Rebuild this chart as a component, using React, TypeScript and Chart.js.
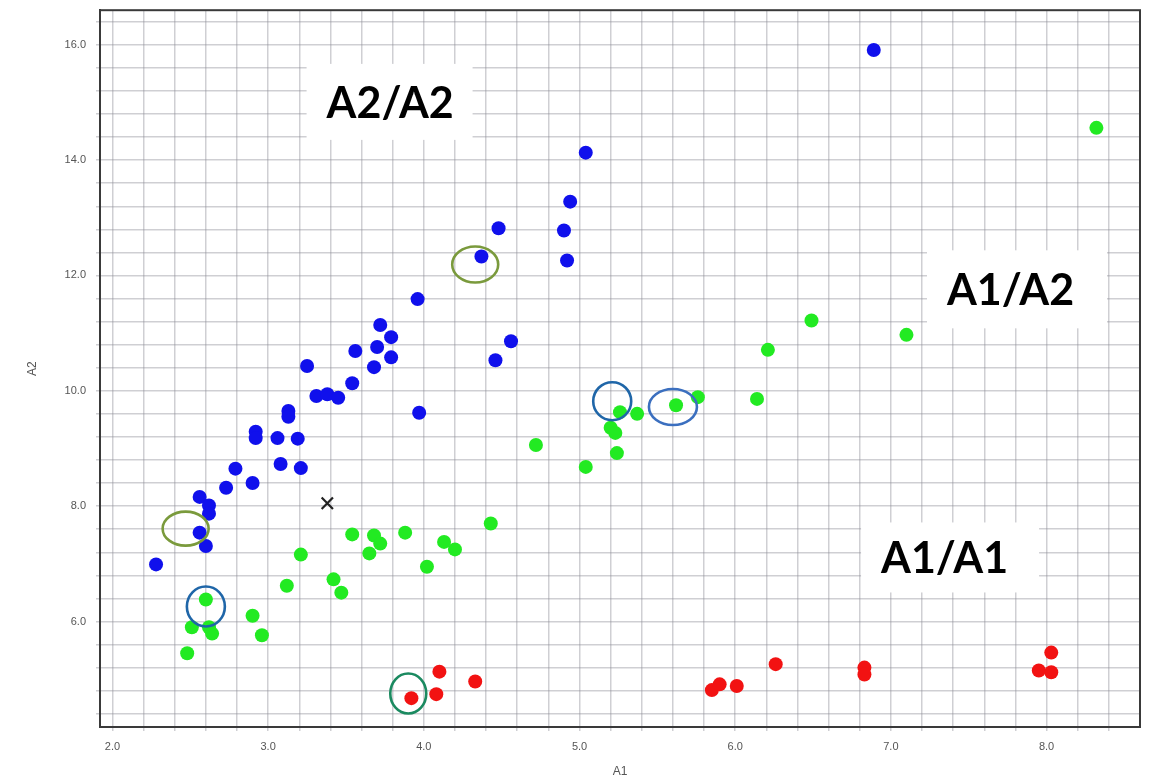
import React, { useEffect, useRef } from "react";
import { Chart, registerables } from "chart.js";

Chart.register(...registerables);

// ---- data ----
const a2a2X = [6.89, 5.04, 4.94, 4.90, 4.48, 4.92, 4.37, 3.96, 4.56, 4.46, 3.72, 3.79, 3.70, 3.79, 3.68, 3.56, 3.25, 3.54, 3.31, 3.38, 3.45, 3.97, 3.13, 3.13, 2.92, 2.92, 3.19, 3.06, 3.08, 3.21, 2.79, 2.90, 2.73, 2.56, 2.62, 2.62, 2.56, 2.60, 2.28];
const a2a2Y = [15.91, 14.13, 13.28, 12.78, 12.82, 12.26, 12.33, 11.59, 10.86, 10.53, 11.14, 10.93, 10.76, 10.58, 10.41, 10.69, 10.43, 10.13, 9.91, 9.94, 9.88, 9.62, 9.65, 9.55, 9.29, 9.18, 9.17, 9.18, 8.73, 8.66, 8.65, 8.40, 8.32, 8.16, 8.01, 7.87, 7.54, 7.31, 6.99];

const a1a2X = [8.32, 7.10, 6.49, 6.21, 6.14, 5.76, 5.62, 5.37, 5.26, 5.20, 5.23, 5.24, 5.04, 4.72, 4.43, 3.54, 3.68, 3.72, 3.65, 3.88, 4.13, 4.20, 4.02, 3.21, 3.12, 3.42, 3.47, 2.60, 2.90, 2.51, 2.62, 2.64, 2.96, 2.48];
const a1a2Y = [14.56, 10.97, 11.22, 10.71, 9.86, 9.89, 9.75, 9.60, 9.63, 9.36, 9.27, 8.92, 8.68, 9.06, 7.70, 7.51, 7.49, 7.35, 7.18, 7.54, 7.38, 7.25, 6.95, 7.16, 6.62, 6.73, 6.50, 6.38, 6.10, 5.90, 5.90, 5.79, 5.76, 5.45];

const a1a1X = [5.85, 5.90, 6.01, 6.26, 6.83, 6.83, 7.95, 8.03, 8.03, 4.10, 4.33, 4.08, 3.92];
const a1a1Y = [4.81, 4.91, 4.88, 5.26, 5.20, 5.08, 5.15, 5.12, 5.46, 5.13, 4.96, 4.74, 4.67];

const noCallX = [3.38];
const noCallY = [8.05];

const xTickLabels = ["2.0", "3.0", "4.0", "5.0", "6.0", "7.0", "8.0"];
const yTickLabels = ["6.0", "8.0", "10.0", "12.0", "14.0", "16.0"];

// annotation boxes (centre in data units)
const boxLabels = ["A2/A2", "A1/A2", "A1/A1"];
const boxX = [3.78, 7.81, 7.38];
const boxY = [15.01, 11.76, 7.11];

// highlight rings (centre in data units)
const ringX = [4.33, 2.47, 2.60, 5.21, 5.60, 3.90];
const ringY = [12.19, 7.61, 6.26, 9.82, 9.72, 4.75];

const toPts = (xs: number[], ys: number[]) => xs.map((x, i) => ({ x, y: ys[i] }));

const boxW = [166, 180, 178];
const boxH = [76, 78, 70];
const ringRx = [23, 23, 19, 19, 24, 18];
const ringRy = [18, 17, 20, 19, 18, 20];
const ringColor = ["#7a9a3c", "#7a9a3c", "#1f66a8", "#1f66a8", "#3b6fbf", "#1b8a60"];

const boxPlugin = {
  id: "boxes",
  beforeDatasetsDraw(chart: any) {
    const { ctx, scales } = chart;
    ctx.save();
    boxLabels.forEach((t, i) => {
      const cx = scales.x.getPixelForValue(boxX[i]);
      const cy = scales.y.getPixelForValue(boxY[i]);
      const l = cx - boxW[i] / 2;
      const tp = cy - boxH[i] / 2;
      ctx.fillStyle = "#ffffff";
      ctx.fillRect(l, tp, boxW[i], boxH[i]);
      ctx.fillStyle = "#000000";
      ctx.font = "bold 43px Lato, 'Open Sans', sans-serif";
      ctx.textAlign = "left";
      ctx.textBaseline = "alphabetic";
      ctx.fillText(t, l + 20, cy + 16);
    });
    ctx.restore();
  },
  afterDatasetsDraw(chart: any) {
    const { ctx, scales, chartArea } = chart;
    ctx.save();
    ringX.forEach((x, i) => {
      const cx = scales.x.getPixelForValue(x);
      const cy = scales.y.getPixelForValue(ringY[i]);
      ctx.beginPath();
      ctx.ellipse(cx, cy, ringRx[i], ringRy[i], 0, 0, Math.PI * 2);
      ctx.strokeStyle = ringColor[i];
      ctx.lineWidth = 2.6;
      ctx.stroke();
    });
    // frame
    ctx.strokeStyle = "#3a3a3a";
    ctx.lineWidth = 2;
    ctx.strokeRect(chartArea.left, chartArea.top, chartArea.right - chartArea.left, chartArea.bottom - chartArea.top);
    ctx.restore();
  },
};

export default function App() {
  const ref = useRef<HTMLCanvasElement | null>(null);
  useEffect(() => {
    if (!ref.current) return;
    Chart.defaults.font.family = "'Liberation Sans', Arial, sans-serif";
    const gridColor = "rgba(140,140,150,0.42)";
    const chart = new Chart(ref.current, {
      type: "scatter",
      data: {
        datasets: [
          {
            label: "A2/A2",
            data: toPts(a2a2X, a2a2Y),
            backgroundColor: "#1010ec",
            borderColor: "#1010ec",
            pointRadius: 7,
            borderWidth: 0,
          },
          {
            label: "A1/A2",
            data: toPts(a1a2X, a1a2Y),
            backgroundColor: "#22ea22",
            borderColor: "#22ea22",
            pointRadius: 7,
            borderWidth: 0,
          },
          {
            label: "A1/A1",
            data: toPts(a1a1X, a1a1Y),
            backgroundColor: "#f21212",
            borderColor: "#f21212",
            pointRadius: 7,
            borderWidth: 0,
          },
          {
            label: "No call",
            data: toPts(noCallX, noCallY),
            pointStyle: "crossRot",
            borderColor: "#222222",
            backgroundColor: "#222222",
            pointRadius: 8,
            borderWidth: 2.2,
          },
        ],
      },
      options: {
        responsive: false,
        animation: false,
        events: [],
        layout: { padding: { top: 8, right: 13, left: 0, bottom: 0 } },
        plugins: { legend: { display: false }, tooltip: { enabled: false } },
        scales: {
          x: {
            type: "linear",
            min: 1.92,
            max: 8.6,
            afterFit: (s: any) => {
              s.height = 54;
              s.paddingLeft = 0;
              s.paddingRight = 0;
            },
            afterBuildTicks: (s: any) => {
              const t = [];
              for (let k = 0; k <= 32; k++) t.push({ value: +(2 + k * 0.2).toFixed(2) });
              s.ticks = t;
            },
            ticks: {
              autoSkip: false,
              maxRotation: 0,
              padding: 9,
              color: "#555555",
              font: { size: 11 },
              callback: (v: any) => {
                const s = Number(v).toFixed(1);
                return xTickLabels.includes(s) && Math.abs(Number(v) - Math.round(Number(v))) < 1e-6 ? s : "";
              },
            },
            grid: { color: gridColor, lineWidth: 1.5, tickLength: 4, drawTicks: true },
            border: { display: true, color: "#3a3a3a", width: 2 },
            title: { display: true, text: "A1", color: "#555555", font: { size: 12 }, padding: { top: 0, bottom: 2 } },
          },
          y: {
            type: "linear",
            min: 4.17,
            max: 16.6,
            afterFit: (s: any) => {
              s.width = 100;
              s.paddingTop = 0;
              s.paddingBottom = 0;
            },
            afterBuildTicks: (s: any) => {
              const t = [];
              for (let k = 0; k <= 30; k++) t.push({ value: +(4.4 + k * 0.4).toFixed(2) });
              s.ticks = t;
            },
            ticks: {
              autoSkip: false,
              padding: 10,
              color: "#555555",
              font: { size: 11 },
              callback: (v: any) => {
                const n = Number(v);
                const s = n.toFixed(1);
                return yTickLabels.includes(s) && Math.abs(n - Math.round(n)) < 1e-6 ? s : "";
              },
            },
            grid: { color: gridColor, lineWidth: 1.5, tickLength: 4, drawTicks: true },
            border: { display: true, color: "#3a3a3a", width: 2 },
            title: { display: true, text: "A2", color: "#555555", font: { size: 12 }, padding: { top: 25, bottom: 0 } },
          },
        },
      },
      plugins: [boxPlugin],
    } as any);
    return () => chart.destroy();
  }, []);
  return (
    <div style={{ position: "absolute", left: 0, top: 0, width: 1153, height: 781, background: "#ffffff" }}>
      <canvas ref={ref} width={1153} height={781} style={{ display: "block" }} />
    </div>
  );
}
